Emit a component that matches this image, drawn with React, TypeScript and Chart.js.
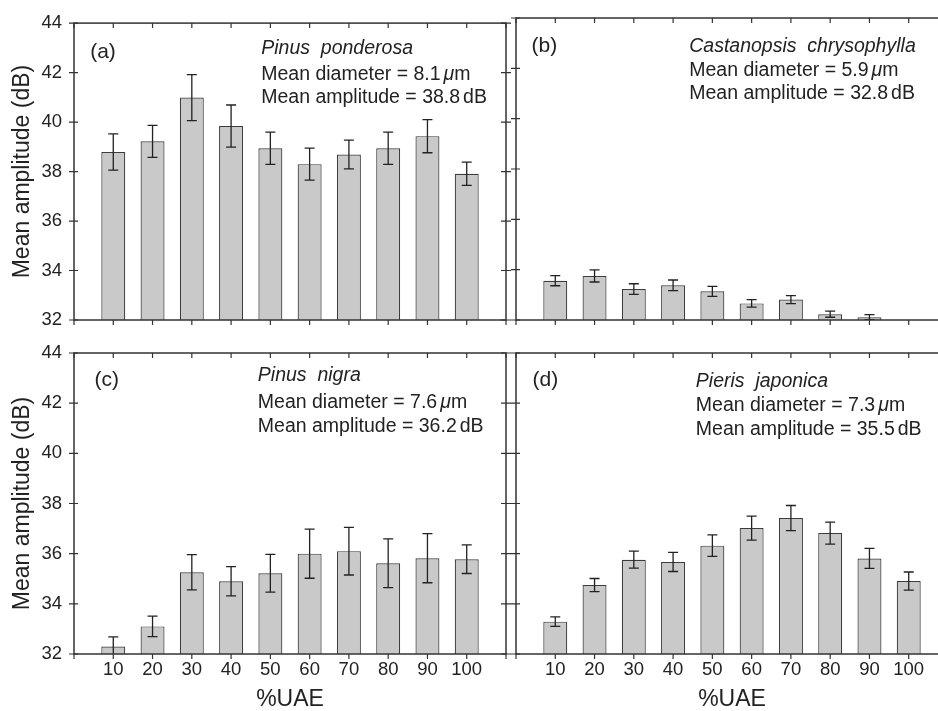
import React, { useEffect, useRef } from 'react';
import { Chart, registerables } from 'chart.js';

Chart.register(...registerables);

// ---------- data ----------
const uaeLevels = [10, 20, 30, 40, 50, 60, 70, 80, 90, 100];
const xTickValues = [0, 10, 20, 30, 40, 50, 60, 70, 80, 90, 100, 110];
const yTickValues = [32, 34, 36, 38, 40, 42, 44];

const ponderosaMean = [38.79, 39.22, 40.99, 39.84, 38.94, 38.3, 38.69, 38.94, 39.43, 37.91];
const ponderosaErr = [0.73, 0.65, 0.93, 0.85, 0.65, 0.65, 0.58, 0.65, 0.67, 0.47];

const castanopsisMean = [33.56, 33.75, 33.23, 33.38, 33.14, 32.66, 32.81, 32.23, 32.11, null];
const castanopsisErr = [0.2, 0.24, 0.21, 0.21, 0.2, 0.15, 0.16, 0.12, 0.1, null];

const nigraMean = [32.3, 33.1, 35.26, 34.9, 35.22, 36.0, 36.1, 35.62, 35.82, 35.78];
const nigraErr = [0.38, 0.41, 0.7, 0.58, 0.75, 0.98, 0.95, 0.97, 0.98, 0.57];

const japonicaMean = [33.29, 34.75, 35.76, 35.67, 36.32, 37.02, 37.42, 36.82, 35.81, 34.91];
const japonicaErr = [0.19, 0.26, 0.34, 0.38, 0.43, 0.48, 0.5, 0.44, 0.4, 0.36];

const yTitle = 'Mean amplitude (dB)';
const xTitle = '%UAE';

// ---------- layout / styles ----------
const CW = 960;
const CH = 730;
const FONT = '"Liberation Sans", Arial, Helvetica, sans-serif';
const INK = '#222222';
const AXIS = '#333333';

type Panel = {
  key: string;
  tag: string;
  species: string;
  diameter: string;
  amplitude: string;
  mean: (number | null)[];
  err: (number | null)[];
  area: { left: number; top: number; right: number; bottom: number };
  yLabels: boolean;
  xLabels: boolean;
  text: { tagX: number; tagY: number; spX: number; spY: number; l1Y: number; l2Y: number };
};

const panels: Panel[] = [
  {
    key: 'a', tag: '(a)', species: 'Pinus  ponderosa', diameter: '8.1', amplitude: '38.8',
    mean: ponderosaMean, err: ponderosaErr,
    area: { left: 74, top: 18, right: 506, bottom: 320 },
    yLabels: true, xLabels: false,
    text: { tagX: 16.2, tagY: 35, spX: 187.2, spY: 30.7, l1Y: 56.7, l2Y: 80 },
  },
  {
    key: 'b', tag: '(b)', species: 'Castanopsis  chrysophylla', diameter: '5.9', amplitude: '32.8',
    mean: castanopsisMean, err: castanopsisErr,
    area: { left: 516, top: 18, right: 948, bottom: 320 },
    yLabels: false, xLabels: false,
    text: { tagX: 15.5, tagY: 33.7, spX: 173.2, spY: 33.7, l1Y: 58, l2Y: 81.3 },
  },
  {
    key: 'c', tag: '(c)', species: 'Pinus  nigra', diameter: '7.6', amplitude: '36.2',
    mean: nigraMean, err: nigraErr,
    area: { left: 74, top: 353, right: 506, bottom: 654 },
    yLabels: true, xLabels: true,
    text: { tagX: 20.5, tagY: 32.7, spX: 183.8, spY: 28, l1Y: 54.7, l2Y: 78.7 },
  },
  {
    key: 'd', tag: '(d)', species: 'Pieris  japonica', diameter: '7.3', amplitude: '35.5',
    mean: japonicaMean, err: japonicaErr,
    area: { left: 516, top: 353, right: 948, bottom: 654 },
    yLabels: false, xLabels: true,
    text: { tagX: 16.5, tagY: 32.7, spX: 179.8, spY: 33.7, l1Y: 57.7, l2Y: 82 },
  },
];

function makeDecor(p: Panel) {
  return {
    id: 'decor_' + p.key,
    afterDatasetsDraw(chart: any) {
      const { ctx, chartArea } = chart;
      const y = chart.scales.y;
      const meta = chart.getDatasetMeta(0);
      ctx.save();
      ctx.beginPath();
      ctx.rect(chartArea.left, chartArea.top, chartArea.right - chartArea.left, chartArea.bottom - chartArea.top);
      ctx.clip();
      ctx.strokeStyle = INK;
      ctx.lineWidth = 1.3;
      meta.data.forEach((bar: any, i: number) => {
        const m = p.mean[i];
        const e = p.err[i];
        if (m == null || e == null) return;
        const px = bar.x;
        const yt = y.getPixelForValue(m + e);
        const yb = y.getPixelForValue(m - e);
        const cap = 5;
        ctx.beginPath();
        ctx.moveTo(px, yt);
        ctx.lineTo(px, yb);
        ctx.moveTo(px - cap, yt);
        ctx.lineTo(px + cap, yt);
        ctx.moveTo(px - cap, yb);
        ctx.lineTo(px + cap, yb);
        ctx.stroke();
      });
      ctx.restore();
    },
    afterDraw(chart: any) {
      const { ctx, chartArea } = chart;
      const { left, top, right, bottom } = chartArea;
      const x = chart.scales.x;
      const y = chart.scales.y;
      ctx.save();
      ctx.strokeStyle = AXIS;
      ctx.lineWidth = 1.5;
      ctx.strokeRect(left, top, right - left, bottom - top);
      ctx.lineWidth = 1.2;
      ctx.beginPath();
      x.ticks.forEach((t: any) => {
        const px = x.getPixelForValue(t.value);
        ctx.moveTo(px, bottom);
        ctx.lineTo(px, bottom + 5);
        ctx.moveTo(px, top);
        ctx.lineTo(px, top + 5);
      });
      y.ticks.forEach((t: any) => {
        const py = y.getPixelForValue(t.value);
        ctx.moveTo(left - 5, py);
        ctx.lineTo(left + 4, py);
        ctx.moveTo(right - 5, py);
        ctx.lineTo(right + 5, py);
      });
      ctx.stroke();

      // annotations
      const T = p.text;
      ctx.fillStyle = INK;
      ctx.textAlign = 'left';
      ctx.textBaseline = 'alphabetic';
      ctx.font = `21px ${FONT}`;
      ctx.fillText(p.tag, left + T.tagX, top + T.tagY);
      ctx.font = `italic 19.5px ${FONT}`;
      ctx.fillText(p.species, left + T.spX, top + T.spY);

      const normal = `19.5px ${FONT}`;
      const italic = `italic 19.5px ${FONT}`;
      let cx = left + T.spX;
      const y1 = top + T.l1Y;
      const s1 = `Mean diameter = ${p.diameter}`;
      ctx.font = normal;
      ctx.fillText(s1, cx, y1);
      cx += ctx.measureText(s1).width + 3;
      ctx.font = italic;
      ctx.fillText('\u03bc', cx, y1);
      cx += ctx.measureText('\u03bc').width;
      ctx.font = normal;
      ctx.fillText('m', cx, y1);

      cx = left + T.spX;
      const y2 = top + T.l2Y;
      const s2 = `Mean amplitude = ${p.amplitude}`;
      ctx.fillText(s2, cx, y2);
      cx += ctx.measureText(s2).width + 3;
      ctx.fillText('dB', cx, y2);
      ctx.restore();
    },
  };
}

function buildConfig(p: Panel): any {
  const yWidth = p.yLabels ? 74 : 20;
  const xHeight = p.xLabels ? 76 : 10;
  return {
    type: 'bar',
    data: {
      datasets: [
        {
          data: uaeLevels.map((u, i) => ({ x: u, y: p.mean[i] })),
          backgroundColor: '#c9c9c9',
          borderColor: '#3c3c3c',
          borderWidth: 1.2,
          base: 32,
          barPercentage: 0.61,
          categoryPercentage: 1,
        },
      ],
    },
    options: {
      responsive: false,
      animation: false,
      devicePixelRatio: 1,
      events: [],
      layout: {
        padding: {
          left: p.area.left - yWidth,
          top: p.area.top,
          right: CW - p.area.right,
          bottom: CH - p.area.bottom - xHeight,
        },
      },
      plugins: { legend: { display: false }, tooltip: { enabled: false } },
      scales: {
        x: {
          type: 'linear',
          position: 'bottom',
          min: 0,
          max: 110,
          offset: false,
          afterBuildTicks: (s: any) => {
            s.ticks = xTickValues.map((v) => ({ value: v }));
          },
          ticks: {
            display: p.xLabels,
            autoSkip: false,
            maxRotation: 0,
            padding: 4.5,
            color: INK,
            font: { family: FONT, size: 18.5 },
            callback: (v: number) => (v === 0 || v === 110 ? '' : String(v)),
          },
          grid: { display: false, drawTicks: false },
          border: { display: false },
          title: {
            display: p.xLabels,
            text: xTitle,
            color: INK,
            font: { family: FONT, size: 23 },
            padding: { top: 0, bottom: 16.2 },
          },
          afterFit: (s: any) => {
            s.height = xHeight;
          },
        },
        y: {
          type: 'linear',
          position: 'left',
          min: 32,
          max: 44,
          beginAtZero: false,
          afterBuildTicks: (s: any) => {
            s.ticks = yTickValues.map((v) => ({ value: v }));
          },
          ticks: {
            display: p.yLabels,
            padding: 12,
            color: INK,
            font: { family: FONT, size: 18.5 },
          },
          grid: { display: false, drawTicks: false },
          border: { display: false },
          title: {
            display: p.yLabels,
            text: yTitle,
            color: INK,
            font: { family: FONT, size: 23 },
            padding: { top: 8.9, bottom: 0 },
          },
          afterFit: (s: any) => {
            s.width = yWidth;
          },
        },
      },
    },
    plugins: [makeDecor(p)],
  };
}

export default function App() {
  const refs = useRef<(HTMLCanvasElement | null)[]>([]);
  useEffect(() => {
    const charts = panels.map((p, i) => new Chart(refs.current[i] as HTMLCanvasElement, buildConfig(p)));
    return () => charts.forEach((c) => c.destroy());
  }, []);
  return (
    <div
      style={{
        position: 'absolute',
        left: 0,
        top: 0,
        width: 938,
        height: 711,
        overflow: 'hidden',
        background: '#ffffff',
      }}
    >
      {panels.map((p, i) => (
        <canvas
          key={p.key}
          ref={(el) => {
            refs.current[i] = el;
          }}
          width={CW}
          height={CH}
          style={{ position: 'absolute', left: 0, top: 0 }}
        />
      ))}
    </div>
  );
}
